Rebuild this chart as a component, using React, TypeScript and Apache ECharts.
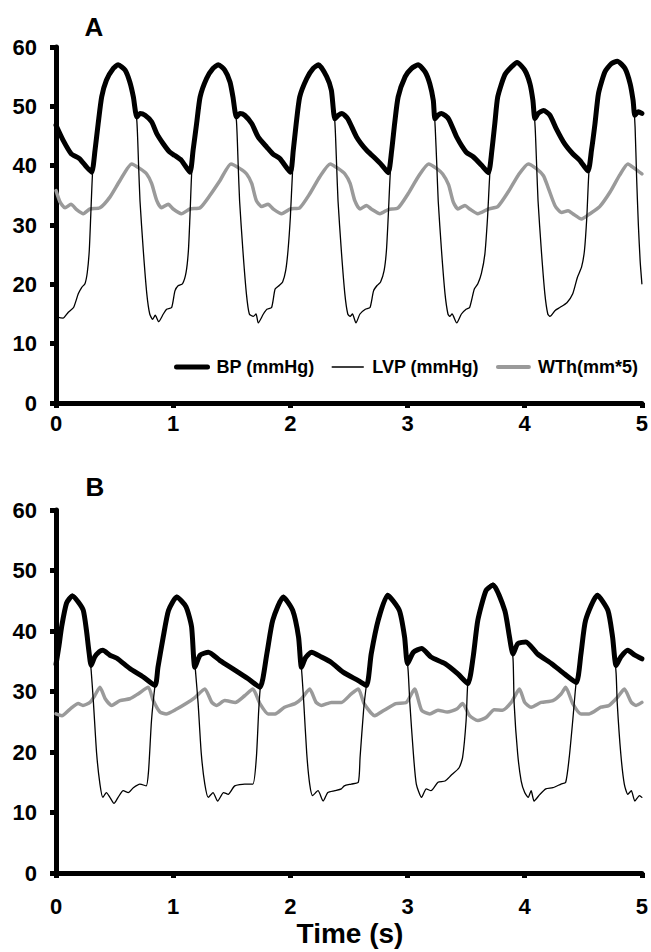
import React, { useEffect, useRef } from 'react';
import * as echarts from 'echarts';

// ---------- data ----------
const seriesNames = ['BP (mmHg)', 'LVP (mmHg)', 'WTh(mm*5)'];
const panelLabels = ['A', 'B'];
const xAxisTitle = 'Time (s)';
const xMin = 0, xMax = 5, xStep = 1;
const yMin = 0, yMax = 60, yStep = 10;

// Panel A: [time (s), value]
const bpA: number[][] = [
  [0, 46.8], [0.06, 44.3], [0.13, 42.0], [0.2, 41.2], [0.26, 39.8], [0.305, 38.9],
  [0.333, 42.6], [0.36, 47.1], [0.39, 51.6], [0.43, 54.4], [0.49, 56.4], [0.53, 57.0], [0.59, 56.1], [0.63, 54.1], [0.66, 51.6], [0.69, 48.2],
  [0.717, 48.8], [0.76, 48.5], [0.816, 47.4], [0.86, 45.4], [0.915, 43.7], [0.97, 42.3], [1.015, 41.7], [1.07, 40.9], [1.143, 38.9],
  [1.17, 42.6], [1.2, 47.1], [1.23, 51.6], [1.285, 54.7], [1.34, 56.4], [1.385, 57.0], [1.44, 56.1], [1.485, 54.1], [1.51, 51.6], [1.54, 48.2],
  [1.57, 48.8], [1.61, 48.5], [1.67, 47.1], [1.726, 44.8], [1.8, 43.1], [1.85, 42.0], [1.91, 41.2], [2.0, 38.9],
  [2.025, 42.6], [2.05, 47.1], [2.08, 51.6], [2.14, 54.7], [2.195, 56.4], [2.24, 57.0], [2.31, 55.0], [2.35, 52.7], [2.38, 47.9],
  [2.41, 48.5], [2.44, 48.8], [2.49, 47.9], [2.566, 44.8], [2.65, 42.6], [2.71, 41.5], [2.78, 40.1], [2.835, 38.8],
  [2.865, 42.6], [2.89, 47.1], [2.92, 51.6], [2.98, 55.0], [3.035, 56.4], [3.09, 57.0], [3.15, 55.8], [3.19, 53.8], [3.22, 51.0], [3.234, 47.9],
  [3.26, 48.5], [3.29, 48.8], [3.35, 47.9], [3.42, 44.8], [3.5, 42.3], [3.56, 41.5], [3.63, 40.1], [3.69, 38.8],
  [3.72, 42.6], [3.745, 47.1], [3.77, 51.6], [3.83, 55.3], [3.89, 56.7], [3.935, 57.4], [4.0, 56.1], [4.045, 53.8], [4.07, 51.0], [4.087, 47.9],
  [4.115, 48.8], [4.16, 49.3], [4.215, 48.5], [4.27, 46.2], [4.34, 43.7], [4.41, 42.0], [4.47, 40.9], [4.54, 39.1],
  [4.57, 42.6], [4.6, 47.1], [4.63, 52.2], [4.684, 55.8], [4.74, 57.2], [4.79, 57.6], [4.855, 56.4], [4.9, 53.8], [4.925, 51.0], [4.94, 48.5],
  [4.97, 49.1], [5.0, 48.8],
];

const lvpA: number[][] = [
  [0, 14.5], [0.06, 14.3], [0.105, 15.3], [0.15, 16.1], [0.19, 18.4], [0.22, 19.5], [0.247, 20.1], [0.267, 22.0], [0.284, 25.7], [0.296, 31.3],
  [0.313, 39.2], [0.333, 42.8], [0.36, 47.3], [0.39, 51.8], [0.43, 54.6], [0.49, 56.6], [0.53, 57.2], [0.59, 56.3], [0.63, 54.3], [0.66, 51.8],
  [0.69, 47.5], [0.705, 40.0], [0.717, 34.0], [0.745, 25.7], [0.775, 18.4], [0.8, 15.0], [0.825, 14.1], [0.847, 14.8], [0.876, 13.7],
  [0.916, 15.0], [0.944, 15.8], [0.987, 16.1], [1.015, 18.9], [1.044, 19.8], [1.08, 20.1], [1.11, 22.0], [1.13, 25.7], [1.143, 31.3],
  [1.16, 39.5], [1.2, 47.3], [1.23, 51.8], [1.285, 54.9], [1.34, 56.6], [1.385, 57.2], [1.44, 56.3], [1.485, 54.3], [1.51, 51.8],
  [1.54, 47.5], [1.555, 40.0], [1.567, 34.0], [1.595, 25.7], [1.625, 18.4], [1.65, 15.0], [1.684, 14.6], [1.707, 15.0], [1.726, 13.5],
  [1.77, 15.0], [1.8, 15.8], [1.84, 16.1], [1.87, 19.2], [1.905, 19.8], [1.934, 20.4], [1.96, 22.3], [1.98, 25.7], [2.0, 31.3],
  [2.02, 39.5], [2.05, 47.3], [2.08, 51.8], [2.14, 54.9], [2.195, 56.6], [2.24, 57.2], [2.31, 55.2], [2.35, 52.9],
  [2.38, 47.3], [2.395, 40.0], [2.407, 34.0], [2.435, 25.7], [2.465, 18.4], [2.49, 15.0], [2.51, 14.6], [2.53, 15.0], [2.56, 13.5],
  [2.594, 15.0], [2.64, 15.8], [2.68, 16.1], [2.71, 18.9], [2.74, 19.8], [2.77, 20.4], [2.8, 22.3], [2.82, 25.7], [2.835, 31.3],
  [2.855, 39.5], [2.89, 47.3], [2.92, 51.8], [2.98, 55.2], [3.035, 56.6], [3.09, 57.2], [3.15, 56.0], [3.19, 54.0], [3.22, 51.2],
  [3.236, 46.5], [3.25, 40.0], [3.262, 34.0], [3.29, 25.7], [3.32, 18.4], [3.345, 15.0], [3.36, 14.6], [3.38, 15.0], [3.42, 13.5],
  [3.46, 15.0], [3.5, 15.8], [3.53, 16.1], [3.57, 19.2], [3.6, 20.1], [3.63, 21.8], [3.66, 25.1], [3.683, 31.3],
  [3.705, 39.5], [3.745, 47.3], [3.77, 51.8], [3.83, 55.5], [3.89, 56.9], [3.935, 57.6], [4.0, 56.3], [4.045, 54.0], [4.07, 51.2],
  [4.089, 46.5], [4.102, 40.0], [4.114, 34.0], [4.142, 25.7], [4.172, 18.4], [4.197, 15.0], [4.215, 14.6], [4.26, 15.6], [4.3, 16.1],
  [4.36, 16.9], [4.41, 18.4], [4.45, 21.2], [4.485, 22.9], [4.51, 25.7], [4.53, 31.3],
  [4.55, 39.5], [4.6, 47.3], [4.63, 52.4], [4.684, 56.0], [4.74, 57.4], [4.79, 57.8], [4.855, 56.6], [4.9, 54.0], [4.925, 51.2],
  [4.942, 46.5], [4.955, 38.0], [4.97, 30.0], [4.985, 24.0], [5.0, 20.1],
];

const wthA: number[][] = [
  [0, 35.8], [0.034, 33.9], [0.077, 32.9], [0.128, 33.5], [0.176, 32.6], [0.233, 31.9], [0.29, 32.7], [0.375, 32.9], [0.46, 34.7],
  [0.546, 37.5], [0.646, 40.3], [0.717, 39.5], [0.774, 38.6], [0.816, 37.0], [0.86, 34.1], [0.9, 32.9], [0.958, 33.5], [1.0, 32.7],
  [1.07, 31.9], [1.143, 32.7], [1.23, 32.9], [1.314, 35.0], [1.4, 37.5], [1.493, 40.3], [1.57, 39.5], [1.627, 38.6], [1.67, 37.0],
  [1.71, 34.1], [1.755, 33.1], [1.81, 33.5], [1.854, 32.7], [1.926, 31.9], [2.0, 32.7], [2.08, 32.9], [2.167, 35.3], [2.25, 38.1],
  [2.34, 40.3], [2.41, 39.5], [2.466, 38.6], [2.51, 37.0], [2.55, 34.1], [2.594, 32.7], [2.65, 33.3], [2.69, 32.7], [2.765, 31.9],
  [2.835, 32.6], [2.92, 32.9], [3.006, 35.3], [3.09, 38.1], [3.18, 40.3], [3.25, 39.5], [3.3, 38.6], [3.35, 36.8], [3.39, 33.9],
  [3.43, 32.7], [3.49, 33.3], [3.53, 32.7], [3.6, 31.9], [3.69, 32.7], [3.77, 33.1], [3.86, 35.6], [3.945, 38.4], [4.03, 40.3],
  [4.1, 39.5], [4.16, 38.3], [4.2, 36.3], [4.26, 33.2], [4.315, 32.1], [4.37, 32.4], [4.41, 31.9], [4.485, 31.0], [4.556, 31.9],
  [4.64, 33.1], [4.73, 35.6], [4.81, 38.4], [4.88, 40.3], [4.94, 39.5], [5.0, 38.6],
];

// Panel B
const bpB: number[][] = [
  [0, 34.5], [0.025, 37.5], [0.048, 40.7], [0.09, 44.6], [0.14, 45.8], [0.19, 44.8], [0.233, 43.4], [0.26, 40.1], [0.28, 36.8], [0.3, 34.3],
  [0.33, 35.7], [0.37, 36.6], [0.4, 36.8], [0.46, 36.0], [0.52, 35.5], [0.63, 33.8], [0.745, 32.4], [0.845, 31.0],
  [0.87, 34.0], [0.915, 39.0], [0.96, 43.4], [1.03, 45.6], [1.11, 44.0], [1.157, 40.7], [1.185, 34.0],
  [1.23, 36.0], [1.3, 36.5], [1.4, 35.1], [1.53, 33.5], [1.64, 32.1], [1.74, 30.7],
  [1.8, 36.3], [1.85, 41.8], [1.94, 45.6], [2.02, 43.4], [2.07, 39.0], [2.095, 34.0],
  [2.13, 35.6], [2.18, 36.5], [2.265, 35.7], [2.35, 34.8], [2.45, 33.2], [2.58, 31.8], [2.65, 31.0],
  [2.69, 36.2], [2.75, 41.8], [2.83, 45.9], [2.93, 43.4], [2.975, 39.0], [3.0, 34.6],
  [3.05, 36.5], [3.12, 37.1], [3.2, 35.7], [3.32, 34.6], [3.43, 32.9], [3.515, 31.3],
  [3.56, 35.7], [3.6, 41.8], [3.67, 46.7], [3.73, 47.6], [3.83, 43.4], [3.87, 39.0], [3.9, 36.2],
  [3.94, 37.9], [4.01, 38.2], [4.11, 36.2], [4.23, 34.6], [4.34, 32.9], [4.44, 31.5],
  [4.48, 36.2], [4.52, 41.8], [4.62, 45.9], [4.71, 43.4], [4.75, 39.0], [4.78, 34.3],
  [4.82, 35.7], [4.88, 36.8], [4.94, 36.0], [5.0, 35.4],
];

const lvpB: number[][] = [
  [0, 34.8], [0.025, 37.8], [0.048, 41.0], [0.09, 44.9], [0.14, 46.1], [0.19, 45.1], [0.233, 43.7], [0.26, 40.4], [0.28, 37.0], [0.3, 33.5],
  [0.32, 28.0], [0.347, 19.7], [0.375, 14.7], [0.4, 12.5], [0.43, 13.3], [0.46, 12.5], [0.495, 11.5], [0.53, 12.5], [0.574, 13.6],
  [0.617, 13.3], [0.66, 14.1], [0.716, 14.7], [0.77, 14.4], [0.79, 16.9], [0.815, 25.2], [0.845, 31.0],
  [0.87, 34.3], [0.915, 39.3], [0.96, 43.7], [1.03, 45.9], [1.11, 44.3], [1.157, 41.0], [1.19, 33.5],
  [1.213, 28.0], [1.24, 19.7], [1.27, 14.7], [1.3, 12.5], [1.34, 13.3], [1.38, 11.9], [1.43, 13.3], [1.47, 13.0], [1.525, 14.4],
  [1.61, 14.7], [1.68, 14.7], [1.71, 19.1], [1.73, 26.9], [1.745, 30.9],
  [1.8, 36.6], [1.85, 42.1], [1.94, 45.9], [2.02, 43.7], [2.07, 39.3], [2.1, 32.5],
  [2.115, 28.0], [2.14, 19.7], [2.165, 14.7], [2.19, 12.8], [2.236, 13.6], [2.28, 11.9], [2.32, 13.3], [2.38, 13.6], [2.435, 13.9],
  [2.46, 14.4], [2.52, 14.7], [2.58, 15.0], [2.595, 19.1], [2.625, 26.9], [2.65, 31.2],
  [2.69, 36.5], [2.75, 42.1], [2.83, 46.2], [2.93, 43.7], [2.975, 39.3], [3.005, 33.5],
  [3.02, 28.0], [3.05, 19.7], [3.075, 14.7], [3.12, 12.5], [3.16, 13.9], [3.2, 13.6], [3.26, 15.0], [3.32, 15.2], [3.37, 16.1],
  [3.44, 17.4], [3.47, 19.1], [3.5, 25.2], [3.515, 31.5],
  [3.56, 36.0], [3.6, 42.1], [3.67, 47.0], [3.73, 47.9], [3.83, 43.7], [3.87, 39.3], [3.9, 35.5],
  [3.91, 28.0], [3.94, 19.7], [3.97, 15.2], [4.0, 13.3], [4.03, 12.5], [4.055, 13.6], [4.08, 11.9], [4.13, 13.0], [4.18, 13.9],
  [4.24, 14.1], [4.31, 14.7], [4.35, 15.0], [4.38, 19.1], [4.41, 25.2], [4.44, 31.7],
  [4.48, 36.5], [4.52, 42.1], [4.62, 46.2], [4.71, 43.7], [4.75, 39.3], [4.78, 33.0],
  [4.79, 28.0], [4.82, 19.7], [4.85, 14.7], [4.88, 13.0], [4.91, 13.6], [4.94, 11.9], [4.98, 12.8], [5.0, 12.5],
];

const wthB: number[][] = [
  [0, 26.3], [0.05, 26.0], [0.12, 27.1], [0.19, 28.0], [0.23, 27.7], [0.29, 28.2], [0.33, 29.3], [0.375, 30.7], [0.42, 28.8],
  [0.475, 27.7], [0.546, 28.5], [0.63, 28.8], [0.7, 29.6], [0.787, 30.7], [0.83, 28.5], [0.887, 26.6], [0.94, 26.3], [1.03, 27.1],
  [1.11, 28.0], [1.185, 29.0], [1.27, 30.4], [1.33, 28.2], [1.37, 27.7], [1.44, 28.5], [1.53, 28.2], [1.61, 29.3], [1.68, 30.4],
  [1.74, 28.0], [1.81, 26.3], [1.87, 26.3], [1.95, 27.4], [2.04, 28.0], [2.095, 28.8], [2.165, 30.4], [2.22, 28.2], [2.265, 27.7],
  [2.35, 28.2], [2.435, 28.2], [2.52, 29.6], [2.58, 30.4], [2.63, 28.0], [2.72, 26.0], [2.8, 26.9], [2.9, 28.0], [2.99, 28.2],
  [3.06, 30.4], [3.12, 26.9], [3.19, 26.3], [3.26, 26.9], [3.34, 26.6], [3.42, 27.1], [3.47, 28.0], [3.53, 26.0], [3.6, 25.2],
  [3.67, 25.7], [3.74, 27.0], [3.81, 26.9], [3.885, 28.2], [3.955, 30.4], [4.0, 28.2], [4.055, 27.4], [4.14, 28.2], [4.24, 28.5],
  [4.31, 29.6], [4.35, 30.7], [4.41, 28.0], [4.48, 26.3], [4.55, 26.3], [4.65, 27.4], [4.72, 27.7], [4.79, 29.0], [4.85, 30.4],
  [4.91, 28.2], [4.95, 27.7], [5.0, 28.2],
];

// ---------- styling ----------
const FONT = '"Liberation Sans", Arial, Helvetica, sans-serif';
const BLACK = '#000000';
const GRAY = '#9a9a9a';

function xAxis(gridIndex: number, margin: number, fontSize: number) {
  return {
    type: 'value', gridIndex, min: xMin, max: xMax, interval: xStep,
    axisLine: { show: true, onZero: false, lineStyle: { color: BLACK, width: 5 } },
    axisTick: { show: true, length: 5, lineStyle: { color: BLACK, width: 5 } },
    axisLabel: { margin, color: BLACK, fontSize, fontWeight: 'bold', fontFamily: FONT },
    splitLine: { show: false },
  };
}
function yAxis(gridIndex: number) {
  return {
    type: 'value', gridIndex, min: yMin, max: yMax, interval: yStep,
    axisLine: { show: true, onZero: false, lineStyle: { color: BLACK, width: 5 } },
    axisTick: { show: true, length: 6, lineStyle: { color: BLACK, width: 5 } },
    axisLabel: { margin: 19, color: BLACK, fontSize: 22, fontWeight: 'bold', fontFamily: FONT },
    splitLine: { show: false },
  };
}
function line(name: string, data: number[][], idx: number, width: number, color: string) {
  return {
    name, type: 'line', xAxisIndex: idx, yAxisIndex: idx, data,
    symbol: 'none', showSymbol: false, smooth: 0.2, silent: true,
    lineStyle: { color, width, cap: 'round', join: 'round' },
    itemStyle: { color },
  };
}

export default function App() {
  const ref = useRef<HTMLDivElement>(null);
  useEffect(() => {
    if (!ref.current) return;
    const chart = echarts.init(ref.current, undefined, { renderer: 'svg' });
    const hidden = { opacity: 0, color: 'rgba(0,0,0,0)', borderWidth: 0 };
    const option: any = {
      animation: false,
      backgroundColor: '#ffffff',
      grid: [
        { left: 56, top: 47, width: 586, height: 356 },
        { left: 56, top: 510, width: 587, height: 363 },
      ],
      xAxis: [xAxis(0, 9, 22), xAxis(1, 22, 22)],
      yAxis: [yAxis(0), yAxis(1)],
      legend: {
        left: 169, top: 353, itemWidth: 31, itemHeight: 14, itemGap: 17, selectedMode: false,
        data: [
          { name: seriesNames[0], lineStyle: { width: 5, color: BLACK }, itemStyle: hidden },
          { name: seriesNames[1], lineStyle: { width: 1.5, color: BLACK }, itemStyle: hidden },
          { name: seriesNames[2], lineStyle: { width: 4, color: GRAY }, itemStyle: hidden },
        ],
        textStyle: { fontSize: 18, fontWeight: 'bold', fontFamily: FONT, color: BLACK, padding: [0, 0, 0, 4] },
      },
      graphic: [
        { type: 'text', x: 94, y: 27, style: { text: panelLabels[0], fill: BLACK, font: `bold 26px ${FONT}`, textAlign: 'center', textVerticalAlign: 'middle', align: 'center', verticalAlign: 'middle' } },
        { type: 'text', x: 95, y: 487, style: { text: panelLabels[1], fill: BLACK, font: `bold 26px ${FONT}`, textAlign: 'center', textVerticalAlign: 'middle', align: 'center', verticalAlign: 'middle' } },
        { type: 'text', x: 350, y: 933, style: { text: xAxisTitle, fill: BLACK, font: `bold 28px ${FONT}`, textAlign: 'center', textVerticalAlign: 'middle', align: 'center', verticalAlign: 'middle' } },
      ],
      series: [
        line(seriesNames[2], wthA, 0, 3.5, GRAY),
        line(seriesNames[0], bpA, 0, 5, BLACK),
        line(seriesNames[1], lvpA, 0, 1.3, BLACK),
        line(seriesNames[2], wthB, 1, 3.5, GRAY),
        line(seriesNames[0], bpB, 1, 5, BLACK),
        line(seriesNames[1], lvpB, 1, 1.3, BLACK),
      ],
    };
    chart.setOption(option);
    return () => chart.dispose();
  }, []);
  return (
    <div
      ref={ref}
      style={{ position: 'fixed', left: 0, top: 0, width: 651, height: 952, background: '#fff' }}
    />
  );
}
